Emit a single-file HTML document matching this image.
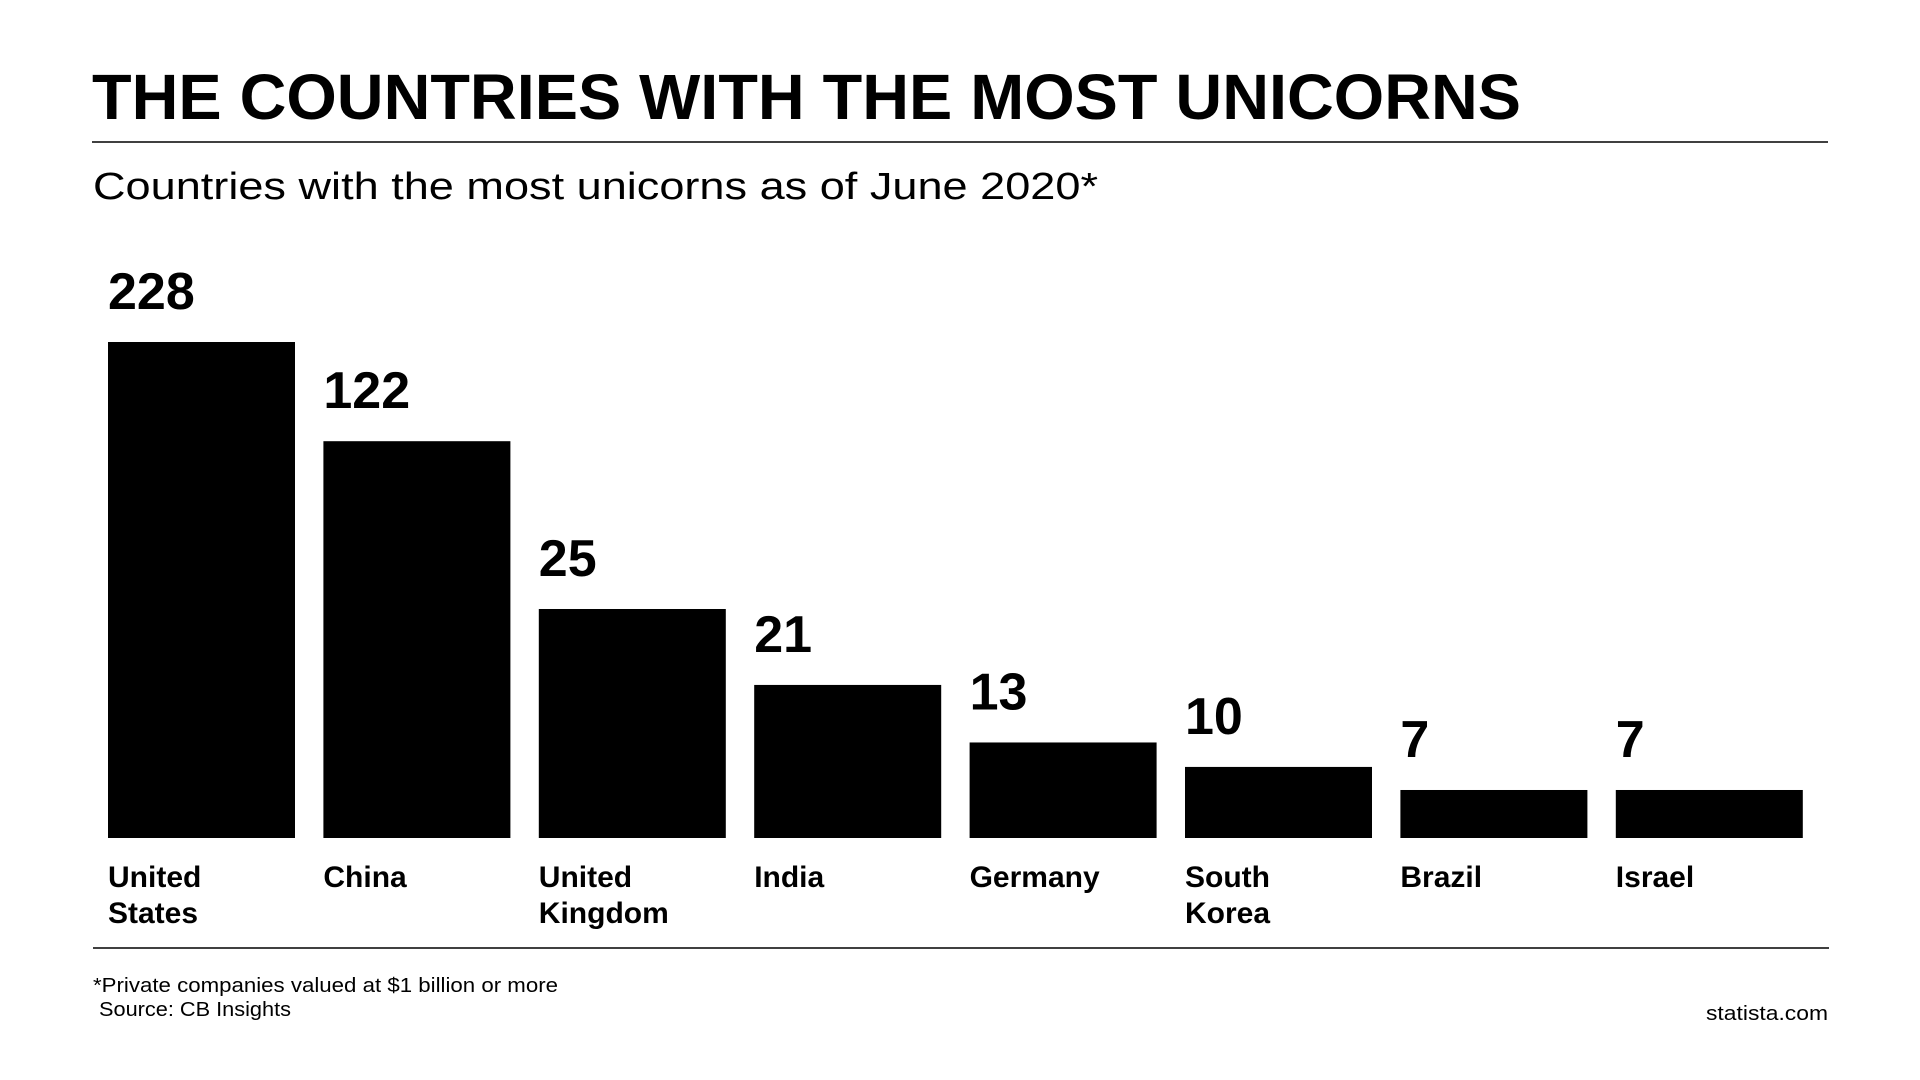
<!DOCTYPE html>
<html><head><meta charset="utf-8"><style>
html,body{margin:0;padding:0;background:#fff;}
svg{display:block;font-family:"Liberation Sans",sans-serif;}
</style></head><body>
<svg id="chart" width="1920" height="1080" viewBox="0 0 1920 1080">
<text x="92" y="119" font-size="64" font-weight="900" fill="#000" textLength="1429" lengthAdjust="spacingAndGlyphs">THE COUNTRIES WITH THE MOST UNICORNS</text>
<line x1="92" y1="142" x2="1828" y2="142" stroke="#000" stroke-width="1.5"/>
<text x="93" y="199" font-size="38" fill="#000" textLength="1005" lengthAdjust="spacingAndGlyphs">Countries with the most unicorns as of June 2020*</text>
<g id="bars"></g>
<line x1="93" y1="948" x2="1829" y2="948" stroke="#000" stroke-width="1.5"/>
<text x="93" y="992" font-size="20" fill="#000" textLength="465" lengthAdjust="spacingAndGlyphs">*Private companies valued at $1 billion or more</text>
<text x="99" y="1016" font-size="20" fill="#000" textLength="192" lengthAdjust="spacingAndGlyphs">Source: CB Insights</text>
<text x="1706" y="1020" font-size="20" fill="#000" textLength="122" lengthAdjust="spacingAndGlyphs">statista.com</text>
</svg>
<script>
const categories = [["United","States"],["China"],["United","Kingdom"],["India"],["Germany"],["South","Korea"],["Brazil"],["Israel"]];
const values = [228,122,25,21,13,10,7,7];
// non-linear axis used by the original graphic (domain breakpoints -> relative height)
const axisDomain = [0,7,10,13,21,25,122,228];
const axisRange = [0,0.0968,0.1433,0.1926,0.3086,0.4617,0.8000,1];
const NS="http://www.w3.org/2000/svg";
const baseY=838, maxH=496, x0=108, pitch=215.4, bw=187;
function yScale(v){
  for(let i=1;i<axisDomain.length;i++){
    if(v<=axisDomain[i]){const t=(v-axisDomain[i-1])/(axisDomain[i]-axisDomain[i-1]);return (axisRange[i-1]+t*(axisRange[i]-axisRange[i-1]))*maxH;}
  }
  const n=axisDomain.length-1;return axisRange[n]*maxH*v/axisDomain[n];
}
function xScale(i){return x0+i*pitch;}
const g=document.getElementById('bars');
values.forEach((v,i)=>{
  const h=yScale(v), x=xScale(i);
  const r=document.createElementNS(NS,'rect');
  r.setAttribute('x',x);r.setAttribute('y',baseY-h);r.setAttribute('width',bw);r.setAttribute('height',h);r.setAttribute('fill','#000');
  
  
  g.appendChild(r);
  const t=document.createElementNS(NS,'text');
  t.setAttribute('x',x);t.setAttribute('y',baseY-h-33);t.setAttribute('font-size','52');t.setAttribute('font-weight','bold');
  t.textContent=v;
  
  
  g.appendChild(t);
  categories[i].forEach((line,j)=>{
    const c=document.createElementNS(NS,'text');
    c.setAttribute('x',x);c.setAttribute('y',887+j*36);c.setAttribute('font-size','30');c.setAttribute('font-weight','bold');
    c.textContent=line;
    
    
    g.appendChild(c);
  });
});
</script>
</body></html>
